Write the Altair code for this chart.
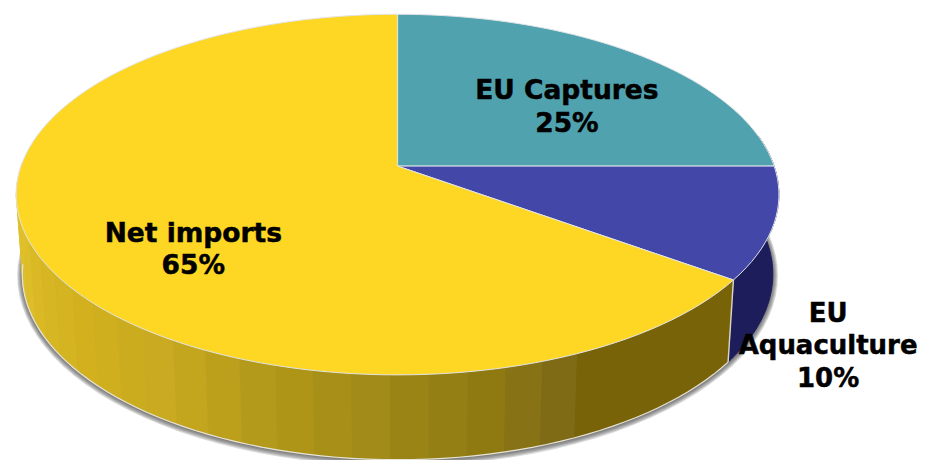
import numpy as np
import pandas as pd
import altair as alt

# Values
slices = ["EU Captures", "EU Aquaculture", "Net imports"]
shares = [25, 10, 65]
top_colors = ["#4FA2AE", "#4347A7", "#FDD723"]
navy_wall = "#1C1D5A"
label_text = ["EU Captures\n25%", "EU\nAquaculture\n10%", "Net imports\n65%"]
label_x = [567.5, 829, 193.5]
label_y = [91, 314, 234]
label_size = [26.5, 26, 26.5]

# Shades of the rim of the big slice, from its right end to its left end
rim_shades = ["#796308"] * 6 + [
    "#7F6B15", "#877316", "#8F7A12", "#947F14", "#9A8415", "#A28B18", "#A89018",
    "#AE9518", "#B49A1A", "#BCA01C", "#C3A51E", "#C9AA20", "#CCAC1F", "#D0AF1E",
    "#D2B01E", "#D4B420", "#D6B622", "#DAB924", "#DDBD28", "#DFC02B", "#DFC02B",
    "#DFC02B", "#DFC02B",
]

# Perspective of the disc, in the picture's pixels
CX, CY, BX, AY, K = 398, 166, 377, 176, -0.158
BOTTOM_CY, BOTTOM_BX, BOTTOM_AY = 245, 371, 181


def top_pt(deg):
    a = np.radians(deg)
    u, v = np.sin(a), -np.cos(a)
    d = 1 + K * v
    return CX + BX * u / d, CY + AY * v / d


def bottom_pt(deg, grow=0.0, dy=0.0):
    a = np.radians(deg)
    u, v = np.sin(a), -np.cos(a)
    d = 1 + K * v
    return CX + (BOTTOM_BX + grow) * u / d, BOTTOM_CY + dy + (BOTTOM_AY + grow) * v / d


def frame(points):
    return pd.DataFrame(
        {"x": [p[0] for p in points], "y": [p[1] for p in points], "i": range(len(points))}
    )


X = alt.X("x:Q", scale=alt.Scale(domain=[8, 918], range=[0, 910]), axis=None)
Y = alt.Y("y:Q", scale=alt.Scale(domain=[8, 460], range=[0, 452]), axis=None)


def poly(points, fill, stroke=None, width=1.0, opacity=1.0):
    return (
        alt.Chart(frame(points + points[:1]))
        .mark_line(
            fill=fill,
            stroke=stroke or fill,
            strokeWidth=width,
            opacity=opacity,
            interpolate="linear",
            clip=False,
        )
        .encode(x=X, y=Y, order="i:Q")
    )


def edge(points, color="#E6E4DA", width=1.2):
    return (
        alt.Chart(frame(points))
        .mark_line(stroke=color, strokeWidth=width, interpolate="linear")
        .encode(x=X, y=Y, order="i:Q")
    )


layers = []

# soft shadow beneath the wall
full = list(np.arange(0, 360, 3.0))
for grow, dy in [(5, 0.5), (4, 0.5), (3, 0.5), (2, 0.5), (1, 0.5)]:
    layers.append(poly([bottom_pt(d, grow, dy) for d in full], "#444444", width=0, opacity=0.2))

# slice boundaries as pie angles
edges = np.cumsum([0] + shares) * 3.6
aqua_end = edges[2]

# wall of the small slice
navy_angles = list(np.arange(80, aqua_end + 0.01, 3.0)) + [aqua_end]
layers.append(
    poly([top_pt(d) for d in navy_angles] + [bottom_pt(d) for d in reversed(navy_angles)], navy_wall)
)

# wall of the big slice, one facet per shade
step = 5.0
for n, shade in enumerate(rim_shades):
    a0 = aqua_end + n * step
    arc = list(np.linspace(a0, a0 + step, 4))
    layers.append(
        poly([top_pt(d) for d in arc] + [bottom_pt(d) for d in reversed(arc)], shade, width=0.6)
    )

# pale rim along the bottom and the seam between the walls
rim_angles = list(np.arange(aqua_end, 266, 2.0))
layers.append(edge([bottom_pt(d) for d in rim_angles]))
layers.append(edge([top_pt(aqua_end), bottom_pt(aqua_end)], "#D8D6CC", 1.4))

# top faces
apex = (CX, CY)
for name, c, a0, a1 in zip(slices, top_colors, edges[:-1], edges[1:]):
    arc = list(np.arange(a0, a1, 2.0)) + [a1]
    layers.append(poly([apex] + [top_pt(d) for d in arc], c, stroke="#E2E4E6", width=1.0))

labels = pd.DataFrame({"x": label_x, "y": label_y, "t": label_text, "s": label_size})
layers.append(
    alt.Chart(labels)
    .mark_text(
        font="DejaVu Sans",
        fontWeight="bold",
        color="#000000",
        stroke="#000000",
        strokeWidth=0.5,
        align="center",
        baseline="middle",
        lineBreak="\n",
        lineHeight=32.5,
    )
    .encode(x=X, y=Y, text="t:N", size=alt.Size("s:Q", scale=None))
)

chart = (
    alt.layer(*layers)
    .properties(width=910, height=452, padding=0, background="#FFFFFF")
    .configure_view(stroke=None)
)

chart.save("out.html", embed_options={"renderer": "svg", "actions": False})
